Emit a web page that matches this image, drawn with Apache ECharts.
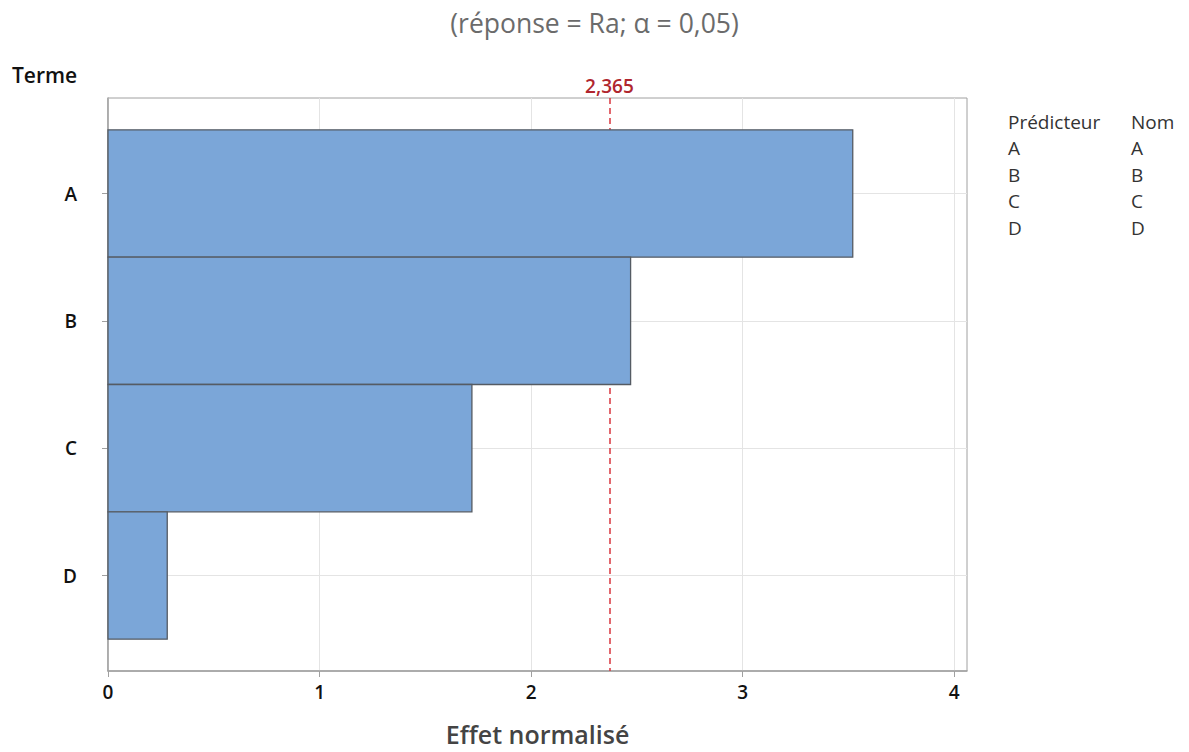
<!DOCTYPE html>
<html>
<head>
<meta charset="utf-8">
<script src="https://cdn.jsdelivr.net/npm/echarts@6/dist/echarts.min.js"></script>
<style>
  html, body { margin: 0; padding: 0; background: #fff; }
  #chart { width: 1189px; height: 752px; }
</style>
</head>
<body>
<div id="chart"></div>
<script>
// Pareto of standardized effects
const terms = ['A', 'B', 'C', 'D'];
const effects = [3.52, 2.47, 1.72, 0.28];
const criticalValue = 2.365;
const criticalLabel = '2,365';
const xTicks = [0, 1, 2, 3, 4];
const predictors = ['A', 'B', 'C', 'D'];
const names = ['A', 'B', 'C', 'D'];

const FONT = '"Open Sans", "Noto Sans", sans-serif';

const barData = terms.map((t, i) => [effects[i], i + 1]);

function legendText(x, y, text) {
  return {
    type: 'text', x: x, y: y,
    style: { text: text, font: '19px ' + FONT, fill: '#333', verticalAlign: 'middle', align: 'left' }
  };
}
const legendTexts = [legendText(1008, 122, 'Prédicteur'), legendText(1131, 122, 'Nom')];
predictors.forEach((p, i) => {
  legendTexts.push(legendText(1008, 148 + i * 26.7, p));
  legendTexts.push(legendText(1131, 148 + i * 26.7, names[i]));
});

const chart = echarts.init(document.getElementById('chart'), null, { renderer: 'svg' });
chart.setOption({
  backgroundColor: '#fff',
  animation: false,
  textStyle: { fontFamily: FONT },
  title: {
    text: '(réponse = Ra; α = 0,05)',
    left: 'center',
    top: 4,
    textStyle: { fontSize: 26.5, fontWeight: 'normal', color: '#6b6b6b', fontFamily: FONT }
  },
  graphic: [
    {
      type: 'text', x: 12, y: 75,
      style: { text: 'Terme', font: '600 21px ' + FONT, fill: '#111', verticalAlign: 'middle' }
    }
  ].concat(legendTexts),
  grid: {
    left: 108, right: 222, top: 98, bottom: 81,
    show: true, borderColor: '#a0a0a0', borderWidth: 1, backgroundColor: '#fff'
  },
  xAxis: {
    type: 'value',
    min: 0, max: 4.06, interval: 1,
    name: 'Effet normalisé',
    nameLocation: 'middle',
    nameGap: 50,
    nameTextStyle: { fontSize: 25, fontWeight: 600, color: '#444', fontFamily: FONT },
    axisLine: { show: true, lineStyle: { color: '#a0a0a0', width: 1.5 } },
    axisTick: { show: true, length: 6, customValues: xTicks, lineStyle: { color: '#a0a0a0' } },
    axisLabel: { customValues: xTicks, margin: 11, fontSize: 19, fontWeight: 600, color: '#111', fontFamily: FONT },
    splitLine: { show: true, lineStyle: { color: '#e4e4e4', width: 1 } }
  },
  yAxis: {
    type: 'value',
    inverse: true,
    min: 0.25, max: 4.75,
    axisLine: { show: true, lineStyle: { color: '#a0a0a0', width: 1.5 } },
    axisTick: { show: true, length: 6, customValues: [1, 2, 3, 4], lineStyle: { color: '#a0a0a0' } },
    axisLabel: {
      customValues: [1, 2, 3, 4],
      margin: 31,
      fontSize: 19, fontWeight: 600, color: '#111', fontFamily: FONT,
      formatter: v => terms[Math.round(v) - 1] || ''
    },
    splitLine: { show: true, lineStyle: { color: '#e4e4e4', width: 1 } }
  },
  series: [
    {
      type: 'line',
      data: [],
      z: 1,
      markLine: {
        z: 1,
        silent: true,
        symbol: 'none',
        lineStyle: { color: '#d9363e', type: [6, 4], width: 1.5 },
        label: {
          show: true, position: 'start', distance: 3,
          formatter: criticalLabel,
          color: '#b0262e', fontSize: 19, fontWeight: 600, fontFamily: FONT
        },
        data: [{ xAxis: criticalValue }]
      }
    },
    {
      type: 'custom',
      z: 3,
      data: barData,
      encode: { x: 0, y: 1 },
      renderItem: function (params, api) {
        const v = api.value(0);
        const y = api.value(1);
        const p0 = api.coord([0, y - 0.5]);
        const p1 = api.coord([v, y + 0.5]);
        return {
          type: 'rect',
          shape: { x: p0[0], y: p0[1], width: p1[0] - p0[0], height: p1[1] - p0[1] },
          style: { fill: '#7ba6d8', stroke: '#555b63', lineWidth: 1.3 }
        };
      }
    }
  ]
});
</script>
</body>
</html>
